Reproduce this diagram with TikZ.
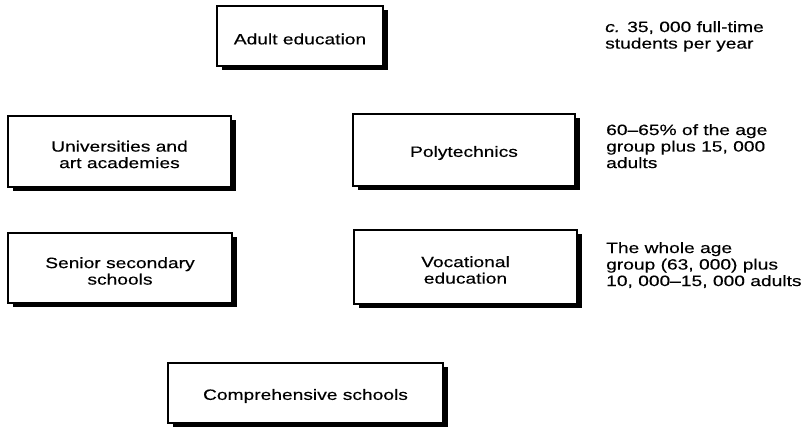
\documentclass[tikz,border=0pt]{standalone}
\usepackage{fontspec}
\setmainfont{Liberation Sans}[FakeStretch=1.28,FakeBold=0.3]
\usetikzlibrary{shadows}
\begin{document}
\begin{tikzpicture}[x=1pt,y=-1pt,
  every node/.style={font=\fontsize{15}{16.5}\selectfont},
  stage/.style={draw=black, fill=white, line width=1.3pt,
    inner sep=0pt, drop shadow={shadow xshift=5pt, shadow yshift=-4pt,
    opacity=1, fill=black}},
  caption/.style={align=center, yshift=-3pt},
  note/.style={align=left, anchor=north west, inner sep=0pt}]
\useasboundingbox (0,0) rectangle (805,426);
\clip (0,0) rectangle (805,426);

% stages of the education system
\node[stage, minimum width=166pt, minimum height=60pt,
  label={[caption]center:Adult education}] (adult) at (300,36) {};
\node[stage, minimum width=223pt, minimum height=71pt,
  label={[caption]center:Universities and\\art academies}] (univ) at (119.5,151.5) {};
\node[stage, minimum width=222pt, minimum height=72pt,
  label={[caption]center:Polytechnics}] (poly) at (464,150) {};
\node[stage, minimum width=224pt, minimum height=70pt,
  label={[caption]center:Senior secondary\\schools}] (senior) at (120,268) {};
\node[stage, minimum width=223pt, minimum height=74pt,
  label={[caption]center:Vocational\\education}] (voc) at (465.5,267) {};
\node[stage, minimum width=275pt, minimum height=60pt,
  label={[caption]center:Comprehensive schools}] (comp) at (305.5,393) {};

% enrolment figures
\node[note] (n1) at (605,21) {\emph{c.} 35, 000 full-time\\students per year};
\node[note] (n2) at (606,124) {60--65\% of the age\\group plus 15, 000\\adults};
\node[note] (n3) at (606,242) {The whole age\\group (63, 000) plus\\10, 000--15, 000 adults};
\end{tikzpicture}
\end{document}
